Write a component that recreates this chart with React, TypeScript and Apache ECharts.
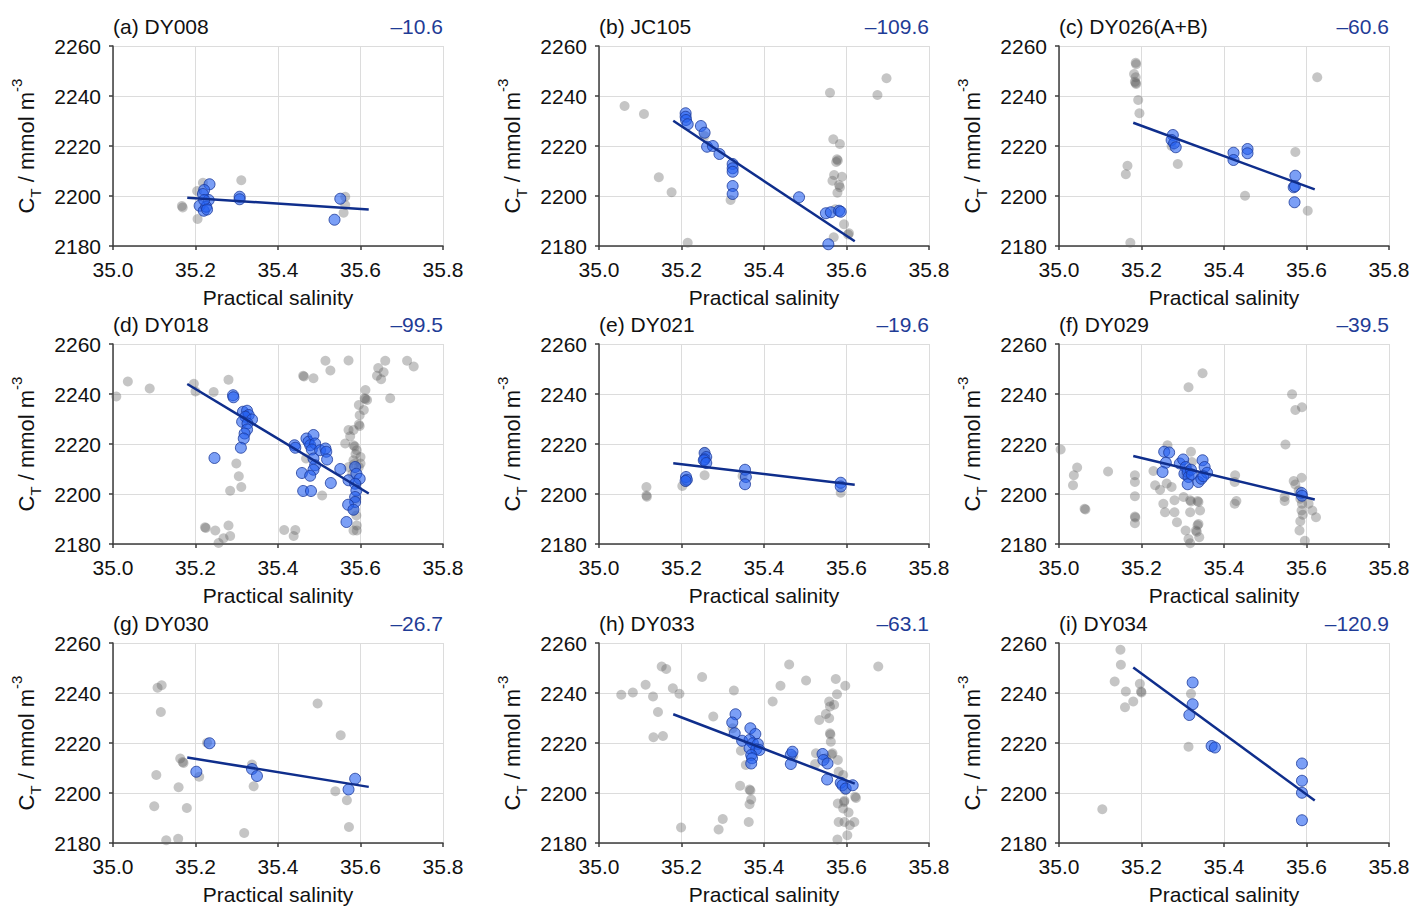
import { useEffect, useRef } from 'react';
import * as echarts from 'echarts';

type Pt = [number, number];

// panel labels and fitted slopes (umol/kg per salinity unit)
const panelTitles = ['(a) DY008', '(b) JC105', '(c) DY026(A+B)', '(d) DY018', '(e) DY021', '(f) DY029', '(g) DY030', '(h) DY033', '(i) DY034'];
const slopes = [-10.6, -109.6, -60.6, -99.5, -19.6, -39.5, -26.7, -63.1, -120.9];
// CT of the fit line at the start of the fit range
const fitStart = [2199.3, 2230.1, 2229.3, 2244.0, 2212.3, 2215.2, 2214.2, 2231.5, 2250.2];
const fitRange: Pt = [35.18, 35.62];

const salinityMin = 35.0;
const salinityMax = 35.8;
const salinityStep = 0.2;
const ctMin = 2180;
const ctMax = 2260;
const ctStep = 20;

// all samples (grey) and the ones used for the fit (blue), [salinity, CT]
const greyA: Pt[] = [[35.167, 2196], [35.169, 2195.4], [35.204, 2202], [35.218, 2205.3], [35.205, 2190.8], [35.311, 2206.3], [35.563, 2199.7], [35.563, 2196.4], [35.559, 2193.3]];
const blueA: Pt[] = [[35.234, 2204.7], [35.221, 2202.4], [35.218, 2200.8], [35.21, 2196.1], [35.22, 2194.1], [35.232, 2198.4], [35.226, 2195.7], [35.221, 2198.4], [35.228, 2194.6], [35.307, 2199.7], [35.307, 2198.7], [35.551, 2198.9], [35.537, 2190.5]];

const greyB: Pt[] = [[35.062, 2236], [35.109, 2232.8], [35.145, 2207.5], [35.176, 2201.5], [35.215, 2181.3], [35.319, 2198.4], [35.256, 2224], [35.56, 2241.3], [35.568, 2222.7], [35.584, 2220.8], [35.577, 2214.7], [35.579, 2214.2], [35.575, 2213.6], [35.57, 2208.4], [35.589, 2207.7], [35.566, 2206.1], [35.582, 2204.4], [35.584, 2203.5], [35.578, 2201.3], [35.594, 2188.7], [35.606, 2185.1], [35.604, 2184.6], [35.569, 2183.5], [35.573, 2194.7], [35.675, 2240.4], [35.697, 2247.1]];
const blueB: Pt[] = [[35.21, 2233.1], [35.21, 2231.7], [35.211, 2230.4], [35.215, 2228.7], [35.247, 2228], [35.256, 2225.3], [35.262, 2219.7], [35.276, 2220], [35.292, 2216.8], [35.324, 2212.8], [35.324, 2211.1], [35.324, 2209.7], [35.324, 2204], [35.324, 2200.8], [35.485, 2199.5], [35.55, 2193.1], [35.562, 2193.5], [35.582, 2194.1], [35.586, 2193.7], [35.556, 2180.7]];

const greyC: Pt[] = [[35.186, 2253.3], [35.187, 2252.7], [35.182, 2248.8], [35.186, 2247.5], [35.184, 2245.7], [35.186, 2245.2], [35.187, 2244.8], [35.192, 2238.4], [35.195, 2233.1], [35.166, 2212.1], [35.162, 2208.7], [35.173, 2181.3], [35.273, 2220], [35.288, 2212.8], [35.451, 2200.1], [35.573, 2217.6], [35.603, 2194.1], [35.626, 2247.5]];
const blueC: Pt[] = [[35.276, 2224.4], [35.273, 2222.4], [35.279, 2221.1], [35.283, 2219.5], [35.423, 2217.3], [35.423, 2214.4], [35.457, 2218.8], [35.457, 2217.1], [35.573, 2208.1], [35.569, 2203.5], [35.572, 2203.9], [35.571, 2197.5]];

const greyD: Pt[] = [[35.008, 2239], [35.036, 2245], [35.089, 2242.2], [35.196, 2244.1], [35.2, 2241], [35.244, 2240.8], [35.28, 2245.7], [35.299, 2212.2], [35.305, 2207.1], [35.311, 2202.8], [35.284, 2201.3], [35.223, 2186.7], [35.225, 2186.4], [35.248, 2185.4], [35.28, 2187.4], [35.284, 2183.2], [35.268, 2182.3], [35.256, 2180.4], [35.461, 2247.3], [35.463, 2247], [35.486, 2246.3], [35.515, 2253.3], [35.527, 2249.4], [35.571, 2253.4], [35.415, 2185.6], [35.442, 2185.6], [35.438, 2183.2], [35.507, 2199.4], [35.468, 2214.2], [35.64, 2247.3], [35.643, 2250.4], [35.65, 2245.9], [35.656, 2248.7], [35.66, 2253.3], [35.672, 2238.3], [35.713, 2253.3], [35.729, 2251], [35.612, 2241.6], [35.61, 2238.3], [35.612, 2238], [35.616, 2237.6], [35.596, 2235.6], [35.608, 2233.6], [35.598, 2231.5], [35.596, 2227.8], [35.598, 2227.2], [35.571, 2225.6], [35.583, 2225.6], [35.575, 2223.1], [35.563, 2220.2], [35.583, 2219.5], [35.586, 2219], [35.591, 2217.5], [35.6, 2214.8], [35.583, 2213.5], [35.6, 2212.2], [35.571, 2210.8], [35.596, 2210.8], [35.588, 2216], [35.585, 2212], [35.58, 2208], [35.591, 2204.1], [35.59, 2198], [35.583, 2193.4], [35.59, 2191.4], [35.591, 2187.4], [35.583, 2185.4], [35.591, 2185.4]];
const blueD: Pt[] = [[35.291, 2239.5], [35.292, 2238.7], [35.315, 2232.9], [35.325, 2233.3], [35.329, 2231.6], [35.321, 2230.9], [35.337, 2229.8], [35.313, 2228.9], [35.326, 2228.2], [35.325, 2225.8], [35.319, 2224.2], [35.317, 2222.2], [35.31, 2218.5], [35.246, 2214.4], [35.44, 2219.5], [35.442, 2218.5], [35.469, 2222.2], [35.474, 2220.9], [35.486, 2223.6], [35.478, 2219.5], [35.49, 2220.2], [35.482, 2217.8], [35.502, 2217.5], [35.515, 2218.2], [35.517, 2216.9], [35.519, 2213.8], [35.486, 2214.2], [35.49, 2211.5], [35.486, 2209.7], [35.458, 2208.4], [35.478, 2207.3], [35.461, 2201.2], [35.48, 2201.2], [35.528, 2204.4], [35.551, 2210], [35.571, 2205.5], [35.587, 2210.8], [35.59, 2208.1], [35.598, 2206.1], [35.587, 2204.1], [35.59, 2201.4], [35.587, 2198.8], [35.587, 2196.8], [35.57, 2195.7], [35.583, 2193.7], [35.566, 2188.8]];

const greyE: Pt[] = [[35.115, 2202.8], [35.115, 2199.4], [35.116, 2198.9], [35.202, 2203.2], [35.21, 2204.8], [35.256, 2207.5], [35.256, 2216.9], [35.348, 2207.2], [35.586, 2200.5]];
const blueE: Pt[] = [[35.211, 2206.8], [35.213, 2205.7], [35.21, 2205.2], [35.256, 2216.4], [35.26, 2214.8], [35.256, 2213.9], [35.254, 2213.5], [35.26, 2212.4], [35.354, 2209.7], [35.356, 2206.8], [35.354, 2203.9], [35.586, 2204.5], [35.586, 2203]];

const greyF: Pt[] = [[35.004, 2217.8], [35.044, 2210.6], [35.036, 2207.5], [35.034, 2203.5], [35.062, 2194.1], [35.064, 2193.8], [35.119, 2209], [35.184, 2207.5], [35.184, 2204.8], [35.184, 2199.1], [35.184, 2191], [35.185, 2190.6], [35.184, 2188.3], [35.229, 2209.2], [35.233, 2203.5], [35.245, 2201.7], [35.253, 2196.1], [35.257, 2192.7], [35.261, 2204.2], [35.273, 2202.8], [35.28, 2197.5], [35.28, 2192.7], [35.286, 2188.7], [35.263, 2219.5], [35.314, 2242.7], [35.348, 2248.3], [35.32, 2216.9], [35.322, 2212.8], [35.306, 2207.5], [35.302, 2198.8], [35.318, 2197.5], [35.32, 2197], [35.318, 2192.7], [35.336, 2197.2], [35.338, 2196.8], [35.342, 2193.4], [35.338, 2188], [35.336, 2187.5], [35.332, 2185.4], [35.334, 2184.9], [35.34, 2182.7], [35.314, 2182], [35.318, 2180.3], [35.307, 2185.4], [35.427, 2207.5], [35.426, 2204.8], [35.43, 2197.2], [35.426, 2196.1], [35.565, 2239.9], [35.573, 2233.6], [35.589, 2234.7], [35.549, 2219.8], [35.569, 2205.2], [35.588, 2206.5], [35.573, 2203.8], [35.547, 2198.8], [35.547, 2197.2], [35.581, 2201.4], [35.585, 2198.1], [35.589, 2196.1], [35.588, 2193.4], [35.591, 2191.7], [35.585, 2189.1], [35.583, 2185.4], [35.596, 2181.3], [35.605, 2196.1], [35.614, 2193.4], [35.623, 2190.7]];
const blueF: Pt[] = [[35.255, 2216.9], [35.267, 2216.6], [35.259, 2212.5], [35.251, 2208.8], [35.293, 2212.2], [35.301, 2213.8], [35.307, 2210.8], [35.304, 2208.1], [35.312, 2208.8], [35.314, 2206.8], [35.32, 2209.7], [35.322, 2207.8], [35.312, 2203.9], [35.338, 2204.8], [35.345, 2206.1], [35.348, 2213.5], [35.353, 2210.8], [35.359, 2208.5], [35.35, 2207.1], [35.588, 2200.4], [35.589, 2199.3]];

const greyG: Pt[] = [[35.108, 2242.1], [35.118, 2243.1], [35.116, 2232.4], [35.105, 2207.2], [35.1, 2194.7], [35.129, 2181.1], [35.158, 2181.7], [35.159, 2202.3], [35.163, 2213.8], [35.169, 2212.4], [35.171, 2212], [35.179, 2194], [35.209, 2206.5], [35.228, 2220.1], [35.318, 2184], [35.337, 2211.4], [35.341, 2202.7], [35.496, 2235.8], [35.552, 2223.1], [35.539, 2200.7], [35.567, 2197.1], [35.572, 2186.4]];
const blueG: Pt[] = [[35.234, 2219.9], [35.202, 2208.5], [35.337, 2209.6], [35.349, 2206.8], [35.571, 2201.4], [35.587, 2205.7]];

const greyH: Pt[] = [[35.054, 2239.3], [35.082, 2240.2], [35.113, 2243.3], [35.131, 2238.6], [35.143, 2232.4], [35.132, 2222.3], [35.155, 2222.8], [35.152, 2250.6], [35.163, 2249.6], [35.179, 2241.9], [35.195, 2239.7], [35.199, 2186.2], [35.25, 2246.4], [35.277, 2230.6], [35.29, 2185.4], [35.3, 2189.6], [35.327, 2241], [35.324, 2225.9], [35.344, 2216.9], [35.356, 2211.2], [35.342, 2202.9], [35.365, 2201.4], [35.367, 2201], [35.369, 2197.4], [35.365, 2195.5], [35.363, 2188.4], [35.421, 2236.6], [35.44, 2242.9], [35.461, 2251.4], [35.502, 2245], [35.471, 2214.9], [35.524, 2211.6], [35.526, 2215.9], [35.534, 2229.2], [35.55, 2231.6], [35.558, 2229.9], [35.56, 2234.6], [35.558, 2236.6], [35.57, 2235.3], [35.574, 2245.6], [35.577, 2239.5], [35.597, 2242.9], [35.56, 2223.9], [35.561, 2223.4], [35.562, 2220.5], [35.566, 2215.9], [35.564, 2215.4], [35.55, 2213.9], [35.579, 2213.2], [35.581, 2208.5], [35.592, 2207.2], [35.597, 2201.1], [35.595, 2196.9], [35.594, 2196.4], [35.579, 2195.8], [35.592, 2193.8], [35.605, 2192.2], [35.621, 2198.5], [35.623, 2198], [35.581, 2188.4], [35.595, 2188.4], [35.619, 2188.4], [35.608, 2187.1], [35.602, 2183.1], [35.578, 2181.4], [35.677, 2250.6]];
const blueH: Pt[] = [[35.331, 2231.5], [35.323, 2228.2], [35.329, 2223.9], [35.347, 2220.9], [35.367, 2225.9], [35.379, 2223.6], [35.365, 2221.2], [35.373, 2219.9], [35.385, 2219.6], [35.365, 2217.9], [35.381, 2217.5], [35.389, 2217.2], [35.369, 2215.2], [35.371, 2213.9], [35.369, 2211.8], [35.465, 2215.3], [35.469, 2216.5], [35.465, 2211.6], [35.542, 2215.6], [35.544, 2213.2], [35.554, 2211.8], [35.553, 2205.4], [35.586, 2204.1], [35.59, 2203.1], [35.598, 2201.8], [35.615, 2203.1]];

const greyI: Pt[] = [[35.149, 2257.3], [35.15, 2251.3], [35.135, 2244.6], [35.162, 2240.6], [35.16, 2234.3], [35.18, 2236.6], [35.196, 2243.7], [35.199, 2240.6], [35.2, 2240.2], [35.105, 2193.5], [35.314, 2218.5], [35.32, 2239.7]];
const blueI: Pt[] = [[35.324, 2244.2], [35.324, 2235.5], [35.316, 2231.2], [35.37, 2218.8], [35.378, 2218.2], [35.589, 2211.8], [35.589, 2204.9], [35.589, 2200.1], [35.589, 2189.1]];

const greyPoints = [greyA, greyB, greyC, greyD, greyE, greyF, greyG, greyH, greyI];
const bluePoints = [blueA, blueB, blueC, blueD, blueE, blueF, blueG, blueH, blueI];

const FONT = '"Liberation Sans", Arial, sans-serif';
const colLeft = [113, 599, 1059];
const rowTop = [46, 344, 643];
const plotW = 330;
const plotH = 200;
const fontSize = 21;
const axisColor = '#3c3c3c';
const slopeColor = '#1f3c96';

export default function App() {
  const chartRef = useRef<HTMLDivElement>(null);

  useEffect(() => {
    if (!chartRef.current) return;
    const chart = echarts.init(chartRef.current, null, { renderer: 'svg' });

    const idx = panelTitles.map((_, i) => i);
    const left = (i: number) => colLeft[i % 3];
    const top = (i: number) => rowTop[Math.floor(i / 3)];

    const option: echarts.EChartsOption = {
      animation: false,
      backgroundColor: '#ffffff',
      textStyle: { fontFamily: FONT },
      grid: idx.map((i) => ({ left: left(i), top: top(i), width: plotW, height: plotH, containLabel: false })),
      xAxis: idx.map((i) => ({
        type: 'value',
        gridIndex: i,
        min: salinityMin,
        max: salinityMax,
        interval: salinityStep,
        name: 'Practical salinity',
        nameLocation: 'middle',
        nameGap: 41,
        nameTextStyle: { fontSize, color: '#111', fontFamily: FONT },
        axisLine: { onZero: false, lineStyle: { color: axisColor, width: 1.5 } },
        axisTick: { show: true, length: 4, lineStyle: { color: axisColor, width: 1.5 } },
        axisLabel: { fontSize, color: '#111', margin: 13, fontFamily: FONT, formatter: (v: number) => v.toFixed(1) },
        splitLine: { show: true, lineStyle: { color: '#dcdcdc', width: 1 } },
      })),
      yAxis: idx.map((i) => ({
        type: 'value',
        gridIndex: i,
        min: ctMin,
        max: ctMax,
        interval: ctStep,
        name: '{c|C}{sub|T}{c| / mmol m}{sup|-3}',
        nameLocation: 'middle',
        nameRotate: 90,
        nameGap: 70,
        nameTextStyle: {
          color: '#111',
          fontFamily: FONT,
          rich: {
            c: { fontSize: 22, lineHeight: 34, color: '#111', fontFamily: FONT },
            sub: { fontSize: 15, lineHeight: 15, verticalAlign: 'bottom', color: '#111', fontFamily: FONT },
            sup: { fontSize: 15, lineHeight: 15, verticalAlign: 'top', color: '#111', fontFamily: FONT },
          },
        },
        axisLine: { show: true, onZero: false, lineStyle: { color: axisColor, width: 1.5 } },
        axisTick: { show: true, length: 4, lineStyle: { color: axisColor, width: 1.5 } },
        axisLabel: { fontSize, color: '#111', margin: 12, fontFamily: FONT, formatter: (v: number) => String(v) },
        splitLine: { show: true, lineStyle: { color: '#dcdcdc', width: 1 } },
      })),
      series: idx.flatMap((i) => [
        {
          type: 'scatter',
          xAxisIndex: i,
          yAxisIndex: i,
          data: greyPoints[i],
          symbolSize: 10,
          silent: true,
          itemStyle: { color: 'rgba(95,95,95,0.45)' },
          z: 2,
        },
        {
          type: 'scatter',
          xAxisIndex: i,
          yAxisIndex: i,
          data: bluePoints[i],
          symbolSize: 11,
          silent: true,
          itemStyle: { color: 'rgba(35,95,240,0.75)', borderColor: '#1b3a9a', borderWidth: 1 },
          z: 3,
        },
        {
          type: 'line',
          xAxisIndex: i,
          yAxisIndex: i,
          data: [
            [fitRange[0], fitStart[i]],
            [fitRange[1], fitStart[i] + slopes[i] * (fitRange[1] - fitRange[0])],
          ],
          symbol: 'none',
          silent: true,
          lineStyle: { color: '#0f2e8c', width: 2.5 },
          z: 4,
        },
      ]) as any,
      graphic: idx.flatMap((i) => [
        {
          type: 'text',
          x: left(i),
          y: top(i) - 20,
          silent: true,
          style: { text: panelTitles[i], fill: '#111', fontSize, fontFamily: FONT, align: 'left', verticalAlign: 'middle' },
        },
        {
          type: 'text',
          x: left(i) + plotW,
          y: top(i) - 20,
          silent: true,
          style: { text: '\u2013' + Math.abs(slopes[i]).toFixed(1), fill: slopeColor, fontSize, fontFamily: FONT, align: 'right', verticalAlign: 'middle' },
        },
      ]) as any,
    };

    chart.setOption(option);

    return () => {
      chart.dispose();
    };
  }, []);

  return <div ref={chartRef} style={{ position: 'fixed', left: 0, top: 0, width: 1413, height: 907, background: '#fff' }} />;
}
